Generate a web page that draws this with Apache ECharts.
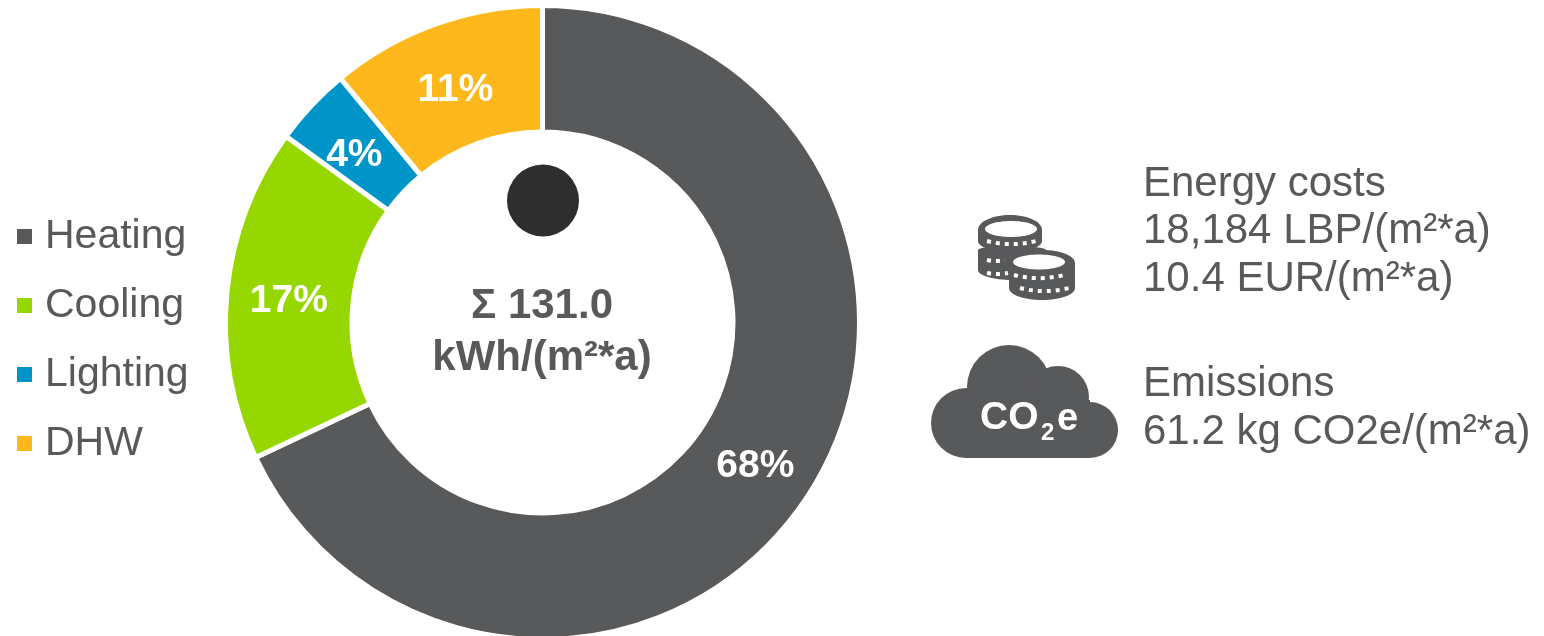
<!DOCTYPE html>
<html>
<head>
<meta charset="utf-8">
<script src="https://cdn.jsdelivr.net/npm/echarts@6/dist/echarts.min.js"></script>
<style>html,body{margin:0;padding:0;background:#fff}#chart{width:1544px;height:636px}</style>
</head>
<body>
<div id="chart"></div>
<script>
// End-use energy shares of the building
const categories = ['Heating', 'Cooling', 'Lighting', 'DHW'];
const shares = [68, 17, 4, 11];
const sliceColors = ['#58595b', '#97d700', '#0095c8', '#ffb81c'];
const labelNudges = [[-4, 6], [2, 3], [-1, 9], [0, 9]];
const totalLines = ['Σ 131.0', 'kWh/(m²*a)'];
const costLines = ['Energy costs', '18,184 LBP/(m²*a)', '10.4 EUR/(m²*a)'];
const emissionLines = ['Emissions', '61.2 kg CO2e/(m²*a)'];

const GREY = '#58595b';
const FONT = '"Liberation Sans", Arial, sans-serif';

function textEl(text, x, y, size, weight, fill, align) {
  return {
    type: 'text', silent: true,
    style: { text, x, y, fill, font: `${weight} ${size}px ${FONT}`, textAlign: align || 'left', textVerticalAlign: 'middle' }
  };
}

const dark = { fill: GREY };

// One coin stack: rim on top, rounded bottom, straight sides between
function coinBody(cx, rx, topY, topRy, bottomY, bottomRy) {
  return [
    { type: 'ellipse', silent: true, shape: { cx, cy: topY, rx, ry: topRy }, style: dark },
    { type: 'rect', silent: true, shape: { x: cx - rx, y: topY, width: rx * 2, height: bottomY - topY }, style: dark },
    { type: 'ellipse', silent: true, shape: { cx, cy: bottomY, rx, ry: bottomRy }, style: dark }
  ];
}

function coinFace(cx, cy, rx, ry) {
  return { type: 'ellipse', silent: true, shape: { cx, cy, rx, ry }, style: { fill: '#fff' } };
}

// Row of small notches along the coin's edge
function notches(x1, x2, y, sag) {
  const w = x2 - x1;
  return {
    type: 'bezierCurve', silent: true,
    shape: { x1, y1: y - sag, cpx1: x1 + w / 3, cpy1: y + sag * 0.4, cpx2: x2 - w / 3, cpy2: y + sag * 0.4, x2, y2: y - sag },
    style: { stroke: '#fff', lineWidth: 4, lineDash: [4, 5], fill: null }
  };
}

const coinIcon = [
  ...coinBody(1012, 34, 250, 4, 270, 10),
  notches(987, 1005, 261, 1),
  notches(987, 1008, 274, 1),
  ...coinBody(1010, 32, 230, 15, 241, 11),
  coinFace(1011, 229, 26, 8),
  notches(987, 1036, 244, 3),
  ...coinBody(1042, 33, 263, 13, 288, 12),
  coinFace(1039, 262, 26, 7.5),
  notches(1014, 1064, 278, 3),
  notches(1020, 1069, 291, 3)
];

const cloudIcon = [
  { type: 'circle', silent: true, shape: { cx: 966, cy: 423, r: 35 }, style: dark },
  { type: 'circle', silent: true, shape: { cx: 1009, cy: 387, r: 42 }, style: dark },
  { type: 'circle', silent: true, shape: { cx: 1058, cy: 397, r: 31 }, style: dark },
  { type: 'circle', silent: true, shape: { cx: 1090, cy: 430, r: 28 }, style: dark },
  { type: 'rect', silent: true, shape: { x: 966, y: 400, width: 124, height: 58 }, style: dark },
  textEl('CO', 980, 418, 39, 'bold', '#fff'),
  textEl('2', 1041, 433, 24, 'bold', '#fff'),
  textEl('e', 1057, 420, 38, 'bold', '#fff')
];

const chart = echarts.init(document.getElementById('chart'), null, { renderer: 'canvas' });
chart.setOption({
  animation: false,
  backgroundColor: '#fff',
  legend: {
    orient: 'vertical', left: 15, top: 212, itemWidth: 17, itemHeight: 17, itemGap: 20,
    padding: 0, icon: 'rect', selectedMode: false,
    data: categories,
    textStyle: { color: GREY, fontFamily: FONT, fontSize: 41, lineHeight: 41, padding: [8, 0, 0, 7] }
  },
  series: [{
    type: 'pie', center: [542.5, 322.5], radius: [190.5, 317], startAngle: 90, clockwise: true, silent: true,
    itemStyle: { borderColor: '#fff', borderWidth: 5 },
    label: { show: true, position: 'inside', formatter: '{c}%', color: '#fff', fontFamily: FONT, fontWeight: 'bold', fontSize: 39 },
    labelLine: { show: false },
    data: categories.map((name, i) => ({
      name, value: shares[i],
      itemStyle: { color: sliceColors[i] },
      label: { offset: labelNudges[i] }
    }))
  }],
  graphic: { elements: [
    { type: 'circle', silent: true, shape: { cx: 543, cy: 200.5, r: 36 }, style: { fill: '#2d2e2d' } },
    textEl(totalLines[0], 542, 306, 42, 'bold', GREY, 'center'),
    textEl(totalLines[1], 542, 358, 42, 'bold', GREY, 'center'),
    ...costLines.map((t, i) => textEl(t, 1143, 184 + i * 47.5, 42, 'normal', GREY)),
    ...emissionLines.map((t, i) => textEl(t, 1143, 384 + i * 48, 42, 'normal', GREY)),
    ...coinIcon,
    ...cloudIcon
  ] }
});
</script>
</body>
</html>
